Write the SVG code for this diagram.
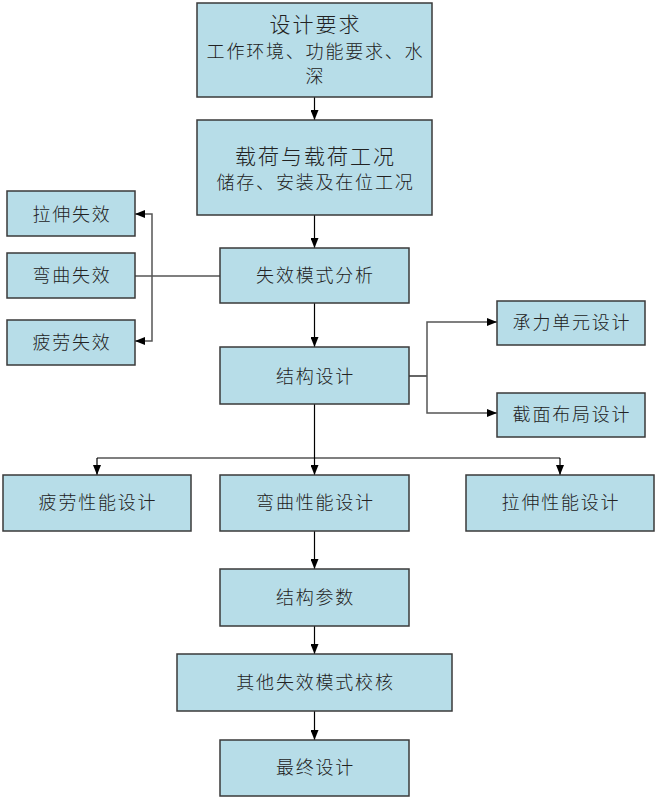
<svg xmlns="http://www.w3.org/2000/svg" width="658" height="799" viewBox="0 0 658 799">
<style>
.box{fill:#B7DDE8;stroke:#3a3a3a;stroke-width:1.5}
.t{font-family:"Noto Sans CJK SC","Liberation Serif",sans-serif;font-size:18px;font-weight:300;letter-spacing:1.8px;fill:#222;text-anchor:middle;dominant-baseline:central}
.big{font-size:21px;letter-spacing:2px}
.ln{fill:none;stroke:#000;stroke-width:1.2}
.gl{fill:none;stroke:#555;stroke-width:1.5}
</style>
<defs>
<marker id="ah" viewBox="0 0 10 8" refX="10" refY="4" markerWidth="10" markerHeight="8" markerUnits="userSpaceOnUse" orient="auto">
<path d="M0,0 L10,4 L0,8 Z" fill="#000"/>
</marker>
</defs>
<g id="connectors">
<line class="ln" x1="314.5" y1="97" x2="314.5" y2="120" marker-end="url(#ah)"/>
<line class="ln" x1="314.5" y1="215" x2="314.5" y2="248" marker-end="url(#ah)"/>
<line class="ln" x1="314.5" y1="303" x2="314.5" y2="347" marker-end="url(#ah)"/>
<line class="ln" x1="135" y1="276" x2="220" y2="276"/>
<polyline class="gl" points="152,276 152,214 135,214" marker-end="url(#ah)"/>
<polyline class="gl" points="152,276 152,341 135,341" marker-end="url(#ah)"/>
<line class="ln" x1="409" y1="376" x2="427" y2="376"/>
<polyline class="gl" points="427,376 427,322 497,322" marker-end="url(#ah)"/>
<polyline class="gl" points="427,376 427,413 497,413" marker-end="url(#ah)"/>
<line class="ln" x1="314.5" y1="404" x2="314.5" y2="475" marker-end="url(#ah)"/>
<line class="ln" x1="97" y1="458" x2="560" y2="458"/>
<line class="ln" x1="97" y1="458" x2="97" y2="475" marker-end="url(#ah)"/>
<line class="ln" x1="560" y1="458" x2="560" y2="475" marker-end="url(#ah)"/>
<line class="ln" x1="314.5" y1="531" x2="314.5" y2="569" marker-end="url(#ah)"/>
<line class="ln" x1="314.5" y1="626" x2="314.5" y2="654" marker-end="url(#ah)"/>
<line class="ln" x1="314.5" y1="711" x2="314.5" y2="740" marker-end="url(#ah)"/>
</g>
<g id="n1"><rect class="box" x="197" y="3" width="235" height="94"/>
<text class="t big" x="315.5" y="23">设计要求</text>
<text class="t" x="315.5" y="50">工作环境、功能要求、水</text>
<text class="t" x="315.5" y="75">深</text></g>
<g id="n2"><rect class="box" x="197" y="120" width="235" height="95"/>
<text class="t big" x="315.5" y="155">载荷与载荷工况</text>
<text class="t" x="315.5" y="181">储存、安装及在位工况</text></g>
<g id="n3"><rect class="box" x="7" y="191" width="128" height="45"/><text class="t" x="72" y="213">拉伸失效</text></g>
<g id="n4"><rect class="box" x="7" y="253" width="128" height="45"/><text class="t" x="72" y="274">弯曲失效</text></g>
<g id="n5"><rect class="box" x="7" y="320" width="128" height="45"/><text class="t" x="72" y="341">疲劳失效</text></g>
<g id="n6"><rect class="box" x="220" y="248" width="189" height="55"/><text class="t" x="315.5" y="274">失效模式分析</text></g>
<g id="n7"><rect class="box" x="220" y="347" width="189" height="57"/><text class="t" x="315.5" y="375">结构设计</text></g>
<g id="n8"><rect class="box" x="497" y="301" width="148" height="44"/><text class="t" x="572" y="321">承力单元设计</text></g>
<g id="n9"><rect class="box" x="497" y="393" width="148" height="44"/><text class="t" x="572" y="413">截面布局设计</text></g>
<g id="n10"><rect class="box" x="3" y="475" width="188" height="56"/><text class="t" x="98" y="501">疲劳性能设计</text></g>
<g id="n11"><rect class="box" x="220" y="475" width="189" height="56"/><text class="t" x="315.5" y="501">弯曲性能设计</text></g>
<g id="n12"><rect class="box" x="466" y="475" width="188" height="56"/><text class="t" x="561" y="501">拉伸性能设计</text></g>
<g id="n13"><rect class="box" x="220" y="569" width="189" height="57"/><text class="t" x="315.5" y="596">结构参数</text></g>
<g id="n14"><rect class="box" x="177" y="654" width="275" height="57"/><text class="t" x="315.5" y="681">其他失效模式校核</text></g>
<g id="n15"><rect class="box" x="220" y="740" width="189" height="56"/><text class="t" x="315.5" y="766">最终设计</text></g>
</svg>
